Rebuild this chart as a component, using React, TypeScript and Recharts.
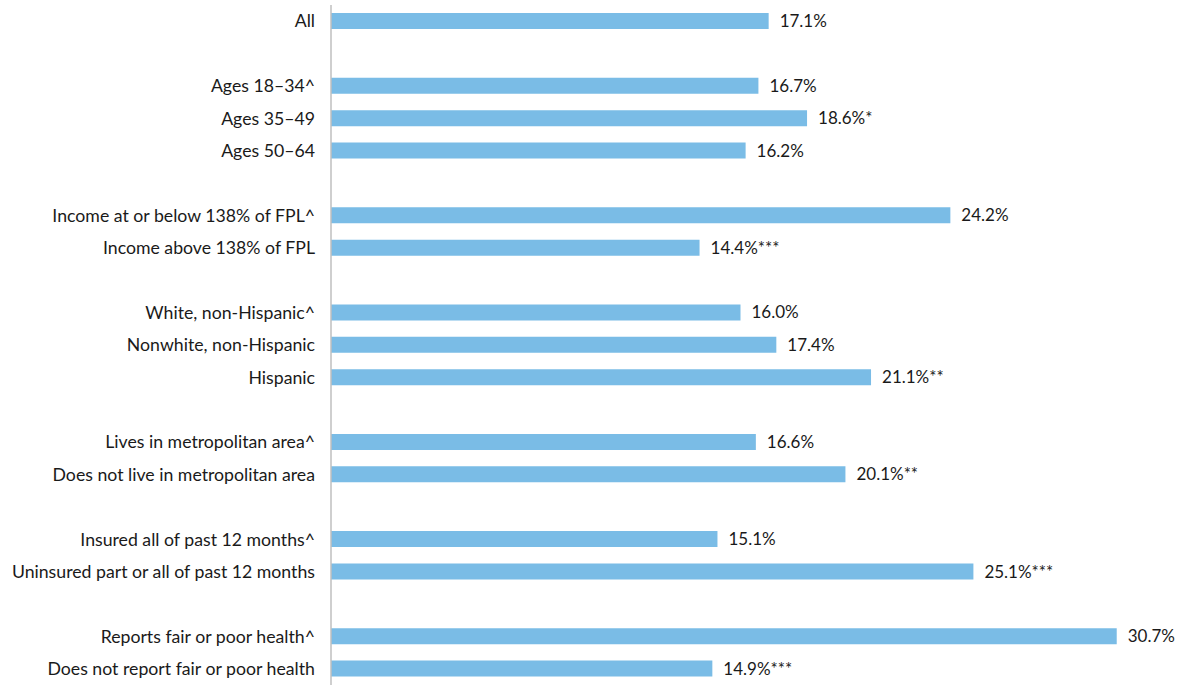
import { Bar, BarChart, LabelList, XAxis, YAxis } from 'recharts';

// Row labels top to bottom; null marks a blank spacer row between groups
const categories: (string | null)[] = [
  'All',
  null,
  'Ages 18–34^',
  'Ages 35–49',
  'Ages 50–64',
  null,
  'Income at or below 138% of FPL^',
  'Income above 138% of FPL',
  null,
  'White, non-Hispanic^',
  'Nonwhite, non-Hispanic',
  'Hispanic',
  null,
  'Lives in metropolitan area^',
  'Does not live in metropolitan area',
  null,
  'Insured all of past 12 months^',
  'Uninsured part or all of past 12 months',
  null,
  'Reports fair or poor health^',
  'Does not report fair or poor health',
];

// Percentages for the non-blank rows, in the same order
const shares = [
  17.1, 16.7, 18.6, 16.2, 24.2, 14.4, 16.0, 17.4, 21.1, 16.6, 20.1, 15.1, 25.1,
  30.7, 14.9,
];

// Significance markers appended after the value
const notes = [
  '', '', '*', '', '', '***', '', '', '**', '', '**', '', '***', '', '***',
];

const rows = (() => {
  let i = 0;
  return categories.map((name, idx) => {
    if (name === null) return { key: `gap-${idx}`, name: '' };
    const value = shares[i];
    const note = notes[i];
    i += 1;
    return {
      key: `row-${idx}`,
      name,
      value,
      label: `${value.toFixed(1)}%${note}`,
    };
  });
})();

const nameByKey: Record<string, string> = Object.fromEntries(
  rows.map((r) => [r.key, r.name]),
);

const FONT = 'Lato, "Open Sans", sans-serif';

export default function App() {
  return (
    <div style={{ position: 'absolute', top: 0, left: 0 }}>
      <BarChart
        width={1180}
        height={685}
        data={rows}
        layout="vertical"
        margin={{ top: 5, right: 30, bottom: 0, left: 0 }}
      >
        <XAxis type="number" domain={[0, 32]} hide />
        <YAxis
          type="category"
          dataKey="key"
          width={331}
          interval={0}
          tickLine={false}
          tickSize={6}
          tickMargin={10}
          axisLine={{ stroke: '#bfbfbf', strokeWidth: 1.5 }}
          tickFormatter={(k: string) => nameByKey[k] ?? ''}
          tick={{ fill: '#1a1a1a', fontSize: 17.7, fontFamily: FONT }}
        />
        <Bar
          dataKey="value"
          fill="#7abce6"
          barSize={16}
          isAnimationActive={false}
        >
          <LabelList
            dataKey="label"
            position="right"
            offset={11}
            fill="#1a1a1a"
            fontSize={17}
            fontFamily={FONT}
          />
        </Bar>
      </BarChart>
    </div>
  );
}
